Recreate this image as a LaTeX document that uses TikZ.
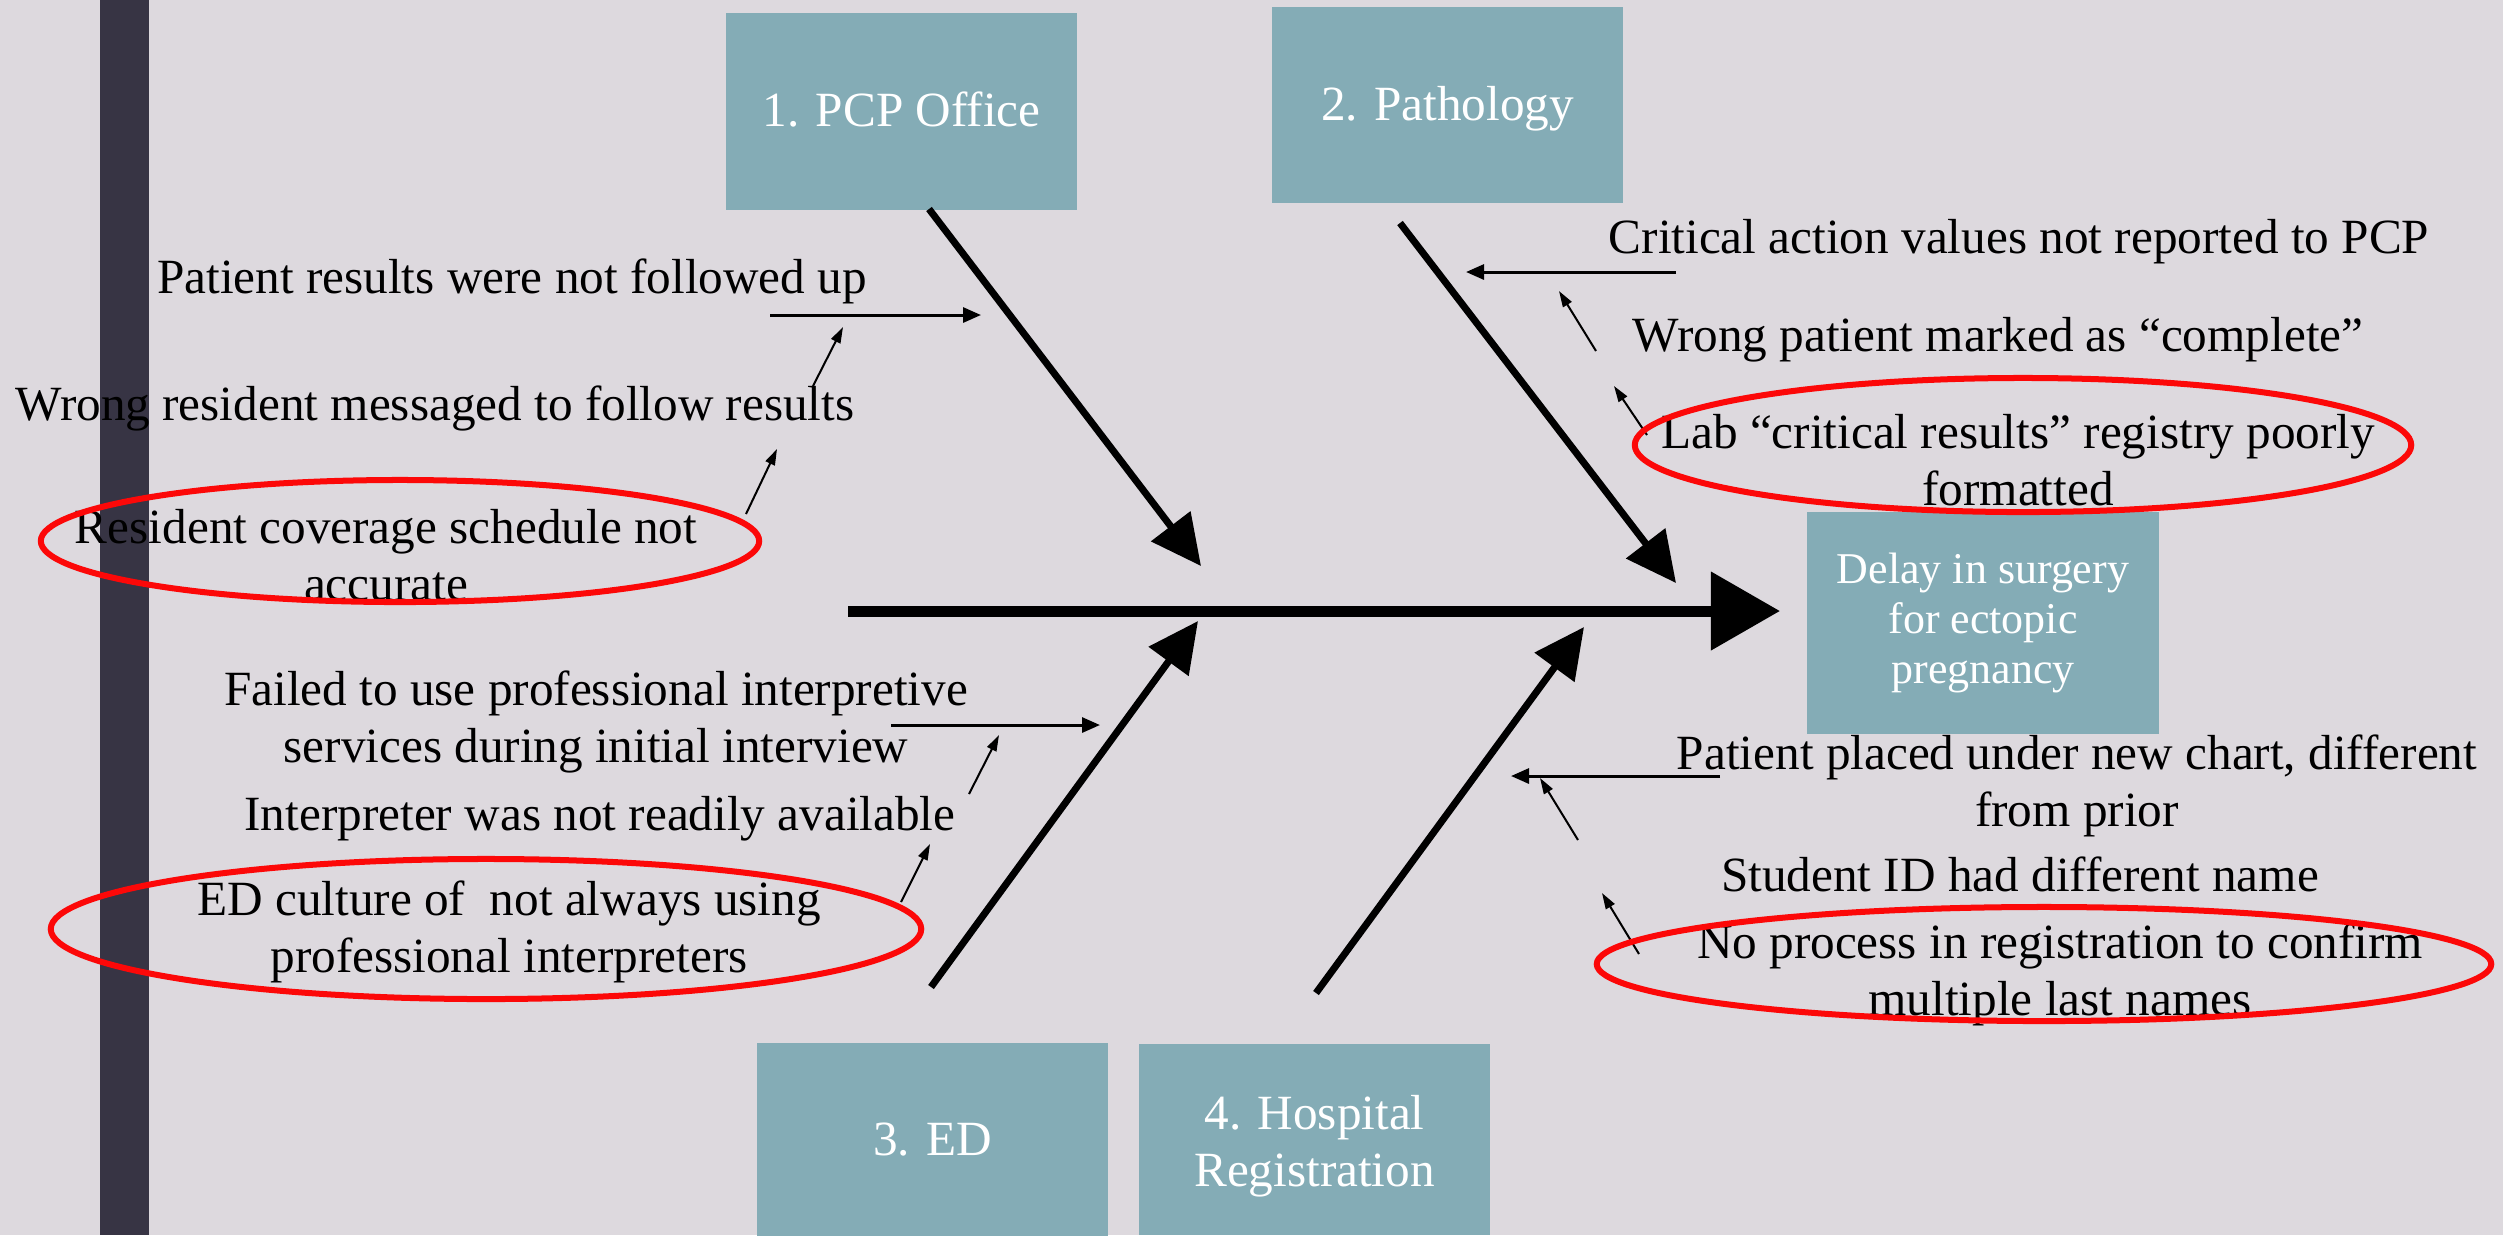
\documentclass[tikz,border=0pt]{standalone}
\usepackage{fontspec}
\setmainfont{Liberation Serif}
\usetikzlibrary{arrows.meta}
\definecolor{bgcol}{RGB}{221,217,222}
\definecolor{boxcol}{RGB}{132,172,182}
\definecolor{barcol}{RGB}{55,52,68}
\definecolor{ringred}{RGB}{252,8,8}
\begin{document}
\begin{tikzpicture}[x=0.01cm,y=-0.01cm,
  cause/.style={font=\fontsize{14}{16.2}\selectfont, inner sep=0pt, align=center, text=black},
  catbox/.style={fill=boxcol, text=white, font=\fontsize{14}{16.2}\selectfont, align=center, inner sep=0pt, minimum width=3.51cm},
  oneline/.style={text height=9.8pt, text depth=1pt},
  boxlabel/.style={text=white, font=\fontsize{14}{16.2}\selectfont, align=center, inner sep=0pt},
  spinearrow/.style={line width=0.11cm, -{Triangle[length=0.69cm,width=0.76cm]}},
  bonearrow/.style={line width=0.07cm, -{Triangle[length=0.5cm,width=0.48cm]}},
  subarrow/.style={line width=0.03cm, -{Triangle[length=0.18cm,width=0.15cm]}},
  tinyarrow/.style={line width=0.02cm, -{Triangle[length=0.16cm,width=0.1cm]}},
  ring/.style={draw=ringred, line width=0.06cm}]
\useasboundingbox (0,0) rectangle (2503,1235);
\fill[bgcol] (0,0) rectangle (2503,1235);
\fill[barcol] (100,0) rectangle (149,1235);

% category boxes
\node[catbox, oneline, minimum height=1.96cm] (pcp) at (901.5,111.5) {1. PCP Office};
\node[catbox, oneline, minimum height=1.96cm] (path) at (1447.5,105) {2. Pathology};
\node[catbox, minimum height=2.22cm, font=\fontsize{12.5}{14.2}\selectfont] (delay) at (1983,623) {Delay in surgery\\for ectopic\\pregnancy};
\node[catbox, oneline, minimum height=1.93cm, minimum width=3.51cm] (ed) at (932.5,1139.5) {3. ED};
\node[catbox, minimum height=1.91cm, minimum width=3.51cm] (reg) at (1314.5,1139.5) {};
\node[boxlabel] (regtext) at (1314.5,1146) {4. Hospital\\Registration};

% spine and bones
\coordinate (sp0) at (848,611);
\coordinate (sp1) at (1780,611);
\draw[spinearrow] (sp0) -- (sp1);
\coordinate (b1s) at (929,209);  \coordinate (b1e) at (1201,566);
\coordinate (b2s) at (1400,223); \coordinate (b2e) at (1676,583);
\coordinate (b3s) at (931,987);  \coordinate (b3e) at (1198,621);
\coordinate (b4s) at (1316,993); \coordinate (b4e) at (1584,627);
\draw[bonearrow] (b1s) -- (b1e);
\draw[bonearrow] (b2s) -- (b2e);
\draw[bonearrow] (b3s) -- (b3e);
\draw[bonearrow] (b4s) -- (b4e);

% cause texts
\node[cause, anchor=base] (c11) at (512,293) {Patient results were not followed up};
\node[cause, anchor=base] (c12) at (435,420) {Wrong resident messaged to follow results};
\node[cause] (c13) at (386,555) {Resident coverage schedule not\\accurate};
\node[cause, anchor=base] (c21) at (2019,253) {Critical action values not reported to PCP};
\node[cause, anchor=base] (c22) at (1998,351) {Wrong patient marked as “complete”};
\node[cause] (c23) at (2018,460) {Lab “critical results” registry poorly\\formatted};
\node[cause] (c31) at (596,721.5) {Failed to use professional interpretive\\services during initial interview};
\node[cause, anchor=base] (c32) at (600,830) {Interpreter was not readily available};
\node[cause] (c33) at (509,931.5) {ED culture of \ not always using\\professional interpreters};
\node[cause] (c41) at (2077,786) {Patient placed under new chart, different\\from prior};
\node[cause, anchor=base] (c42) at (2020,891) {Student ID had different name};
\node[cause] (c43) at (2060,974.5) {No process in registration to confirm\\multiple last names};

% sub arrows: PCP
\coordinate (p1a) at (770,315); \coordinate (p1b) at (981,315);
\coordinate (p2a) at (813,386); \coordinate (p2b) at (843,327);
\coordinate (p3a) at (746,514); \coordinate (p3b) at (777,449);
\draw[subarrow] (p1a) -- (p1b);
\draw[tinyarrow] (p2a) -- (p2b);
\draw[tinyarrow] (p3a) -- (p3b);
% Pathology
\coordinate (q1a) at (1676,272); \coordinate (q1b) at (1466,272);
\coordinate (q2a) at (1596,351); \coordinate (q2b) at (1559,291);
\coordinate (q3a) at (1647,435); \coordinate (q3b) at (1614,386);
\draw[subarrow] (q1a) -- (q1b);
\draw[tinyarrow] (q2a) -- (q2b);
\draw[tinyarrow] (q3a) -- (q3b);
% ED
\coordinate (e1a) at (891,725); \coordinate (e1b) at (1100,725);
\coordinate (e2a) at (969,794); \coordinate (e2b) at (999,735);
\coordinate (e3a) at (901,902); \coordinate (e3b) at (930,844);
\draw[subarrow] (e1a) -- (e1b);
\draw[tinyarrow] (e2a) -- (e2b);
\draw[tinyarrow] (e3a) -- (e3b);
% Registration
\coordinate (r1a) at (1720,776); \coordinate (r1b) at (1511,776);
\coordinate (r2a) at (1578,840); \coordinate (r2b) at (1540,778);
\coordinate (r3a) at (1639,954); \coordinate (r3b) at (1602,893);
\draw[subarrow] (r1a) -- (r1b);
\draw[tinyarrow] (r2a) -- (r2b);
\draw[tinyarrow] (r3a) -- (r3b);

% red rings
\draw[ring] (400,541) ellipse [x radius=3.59cm, y radius=0.61cm];
\draw[ring] (486,929) ellipse [x radius=4.35cm, y radius=0.70cm];
\draw[ring] (2023,445) ellipse [x radius=3.88cm, y radius=0.67cm];
\draw[ring] (2044,964) ellipse [x radius=4.47cm, y radius=0.57cm];
\end{tikzpicture}
\end{document}
